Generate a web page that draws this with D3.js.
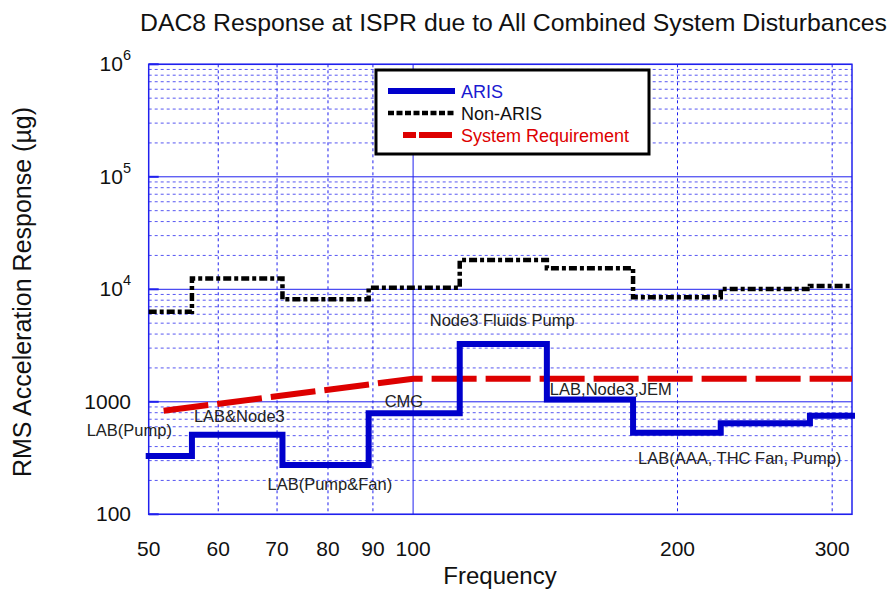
<!DOCTYPE html>
<html>
<head>
<meta charset="utf-8">
<script src="https://cdn.jsdelivr.net/npm/d3@7"></script>
<style>
  body { margin: 0; background: #fff; }
  text { font-family: "Liberation Sans", Arial, sans-serif; fill: #111; }
</style>
</head>
<body>
<script>
'use strict'

// band edges (Hz) and step levels (micro-g)
const bandEdges = [50, 56, 71, 89, 113, 142, 178, 224, 283, 316];
const arisLevels = [330, 510, 274, 790, 3270, 1050, 530, 645, 750];
const nonArisLevels = [6300, 12500, 8150, 10300, 18200, 15400, 8500, 10050, 10700];
const reqFreq = [52, 100, 316];
const reqLevel = [832, 1600, 1600];

const xTicks = [50, 60, 70, 80, 90, 100, 200, 300];
const xMajor = [100];
const yDecades = [100, 1000, 10000, 100000, 1000000];
const yTickLabels = ["100", "1000", "10^4", "10^5", "10^6"];

const annotations = [
	{ text: "LAB(Pump)", f: 50, v: 330 },
	{ text: "LAB&Node3", f: 56, v: 510 },
	{ text: "LAB(Pump&Fan)", f: 71, v: 274 },
	{ text: "CMG", f: 89, v: 790 },
	{ text: "Node3 Fluids Pump", f: 113, v: 3270 },
	{ text: "LAB,Node3,JEM", f: 142, v: 1050 },
	{ text: "LAB(AAA, THC Fan, Pump)", f: 178, v: 530 }
];
// label offsets (px) relative to the step start
const annoOffset = [[-62, -20], [2, -13], [-15, 25], [16, -6], [-30, -18], [3, -4], [5, 31]];

const W = 895, H = 590;
const pLeft = 148.7, pRight = 852, pTop = 64.3, pBottom = 514.3;
const gridBlue = "#2020ee";

const x = d3.scaleLog().domain([50, 316]).range([pLeft, pRight]);
const y = d3.scaleLog().domain([100, 1000000]).range([pBottom, pTop]);

const svg = d3.select("body").append("svg")
	.attr("width", W)
	.attr("height", H);

// minor horizontal grid
let yMinor = [];
yDecades.slice(0, -1).forEach(d => {
	for (let k = 2; k <= 9; k++) yMinor.push(d * k);
});

svg.append("g").selectAll("line")
	.data(yMinor)
	.enter().append("line")
	.attr("x1", pLeft).attr("x2", pRight)
	.attr("y1", d => y(d)).attr("y2", d => y(d))
	.attr("stroke", gridBlue)
	.attr("stroke-width", 1)
	.attr("stroke-dasharray", "3,3")
	.attr("opacity", 0.75);

// vertical grid
svg.append("g").selectAll("line")
	.data(xTicks.slice(1))
	.enter().append("line")
	.attr("x1", d => x(d)).attr("x2", d => x(d))
	.attr("y1", pTop).attr("y2", pBottom)
	.attr("stroke", gridBlue)
	.attr("stroke-width", 1)
	.attr("stroke-dasharray", d => xMajor.includes(d) ? null : "3,3");

// decade lines
svg.append("g").selectAll("line")
	.data(yDecades)
	.enter().append("line")
	.attr("x1", pLeft).attr("x2", pRight)
	.attr("y1", d => y(d)).attr("y2", d => y(d))
	.attr("stroke", gridBlue)
	.attr("stroke-width", 1);

// inward ticks at decades
svg.append("g").selectAll("line")
	.data(yDecades)
	.enter().append("line")
	.attr("x1", pLeft).attr("x2", pLeft + 10)
	.attr("y1", d => y(d)).attr("y2", d => y(d))
	.attr("stroke", gridBlue)
	.attr("stroke-width", 2);

svg.append("rect")
	.attr("x", pLeft).attr("y", pTop)
	.attr("width", pRight - pLeft).attr("height", pBottom - pTop)
	.attr("fill", "none")
	.attr("stroke", gridBlue)
	.attr("stroke-width", 1.5);

// x tick labels
svg.append("g").selectAll("text")
	.data(xTicks)
	.enter().append("text")
	.attr("x", d => x(d))
	.attr("y", 556)
	.attr("text-anchor", "middle")
	.style("font-size", "21px")
	.text(d => d);

// y tick labels
const yLab = svg.append("g").selectAll("text")
	.data(yDecades)
	.enter().append("text")
	.attr("x", 131)
	.attr("y", d => y(d) + 7)
	.attr("text-anchor", "end")
	.style("font-size", "21px");

yLab.each(function(d, i) {
	const parts = yTickLabels[i].split("^");
	const t = d3.select(this);
	t.append("tspan").text(parts[0]);
	if (parts[1]) {
		t.append("tspan")
			.attr("dy", -11)
			.style("font-size", "14.5px")
			.text(parts[1]);
	}
});

const line = d3.line()
	.x(d => x(d.f))
	.y(d => y(d.v));

const stepLine = d3.line()
	.x(d => x(d.f))
	.y(d => y(d.v))
	.curve(d3.curveStepAfter);

const stepData = levels => bandEdges.map((f, i) => ({ f: f, v: levels[Math.min(i, levels.length - 1)] }));

// requirement
svg.append("path")
	.datum(reqFreq.map((f, i) => ({ f: f, v: reqLevel[i] })))
	.attr("d", line)
	.attr("fill", "none")
	.attr("stroke", "#dd0000")
	.attr("stroke-width", 6)
	.attr("stroke-dasharray", "45,9");

// non-ARIS
svg.append("path")
	.datum(stepData(nonArisLevels))
	.attr("d", stepLine)
	.attr("fill", "none")
	.attr("stroke", "#000")
	.attr("stroke-width", 4.5)
	.attr("stroke-dasharray", "8,3,4,3");

// ARIS
svg.append("path")
	.datum(stepData(arisLevels))
	.attr("d", stepLine)
	.attr("fill", "none")
	.attr("stroke", "#0000cc")
	.attr("stroke-width", 6)
	.attr("stroke-linecap", "square");

// annotations
svg.append("g").selectAll("text")
	.data(annotations)
	.enter().append("text")
	.attr("x", (d, i) => x(d.f) + annoOffset[i][0])
	.attr("y", (d, i) => y(d.v) + annoOffset[i][1])
	.style("font-size", "16.5px")
	.style("fill", "#222")
	.text(d => d.text);

// legend
const legend = svg.append("g");
legend.append("rect")
	.attr("x", 376).attr("y", 70)
	.attr("width", 273).attr("height", 84)
	.attr("fill", "#fff")
	.attr("stroke", "#000")
	.attr("stroke-width", 3);

const legendItems = [
	{ name: "ARIS", color: "#0000cc", text: "#1a1ad0", dash: null, w: 6, x1: 388 },
	{ name: "Non-ARIS", color: "#000", text: "#111", dash: "6,2.5", w: 4.5, x1: 388 },
	{ name: "System Requirement", color: "#dd0000", text: "#dd0000", dash: "13,3,33,3", w: 6, x1: 403 }
];
legendItems.forEach((d, i) => {
	const ly = 91 + i * 22;
	legend.append("line")
		.attr("x1", d.x1).attr("x2", 455)
		.attr("y1", ly).attr("y2", ly)
		.attr("stroke", d.color)
		.attr("stroke-width", d.w)
		.attr("stroke-dasharray", d.dash);
	legend.append("text")
		.attr("x", 461)
		.attr("y", ly + 6.5)
		.style("font-size", "18px")
		.style("fill", d.text)
		.text(d.name);
});

// titles
svg.append("text")
	.attr("x", 140)
	.attr("y", 31)
	.style("font-size", "24.8px")
	.text("DAC8 Response at ISPR due to All Combined System Disturbances");

svg.append("text")
	.attr("x", 500)
	.attr("y", 584)
	.attr("text-anchor", "middle")
	.style("font-size", "24px")
	.text("Frequency");

svg.append("text")
	.attr("transform", "translate(31, 292) rotate(-90)")
	.attr("text-anchor", "middle")
	.style("font-size", "25px")
	.text("RMS Acceleration Response (µg)");
</script>
</body>
</html>
